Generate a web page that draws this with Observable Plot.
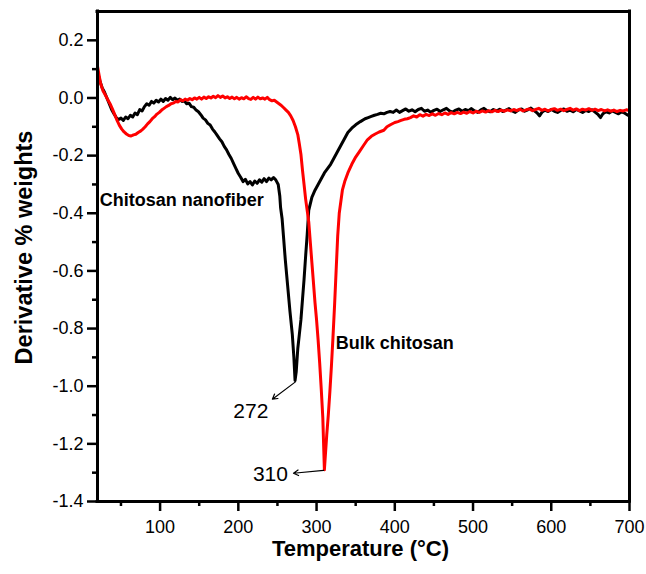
<!DOCTYPE html>
<html>
<head>
<meta charset="utf-8">
<script src="https://cdn.jsdelivr.net/npm/d3@7"></script>
<script src="https://cdn.jsdelivr.net/npm/@observablehq/plot@0.6"></script>
<style>
  html, body { margin: 0; padding: 0; background: #fff; }
  #chart { width: 646px; height: 574px; }
</style>
</head>
<body>
<div id="chart"></div>
<script>
// Chitosan nanofiber (black)
const nanoT = [20,23,26,29,32,35,38,41,44,47,50,53,56,59,62,65,68,71,74,77,80,83,86,89,92,95,98,101,104,107,110,113,116,119,122,125,128,131,134,137,140,143,146,149,152,155,158,161,164,167,170,173,176,179,182,185,188,191,194,197,200,203,206,209,212,215,218,221,224,227,230,233,236,239,242,245,248,251,253,254,256,258,260,263,266,269,271,272.5,274,276,278,280,282,284,286,288,290,294,298,302,306,310,314,318,322,327,331,335,340,345,350,356,362,366,370,374,378,382,386,390,394,398,402,406,410,414,418,422,426,430,434,438,442,446,450,454,458,462,466,470,474,478,482,486,490,494,498,502,506,510,514,518,522,526,530,534,538,542,546,550,554,558,562,566,570,574,578,582,585,588,592,596,600,604,608,612,616,620,624,628,632,636,640,644,648,652,656,660,663,666,670,674,678,682,686,690,694,698,700];
const nanoV = [0.09,0.06,0.035,0.02,0.0,-0.02,-0.04,-0.055,-0.068,-0.075,-0.07,-0.078,-0.066,-0.072,-0.06,-0.066,-0.052,-0.058,-0.04,-0.045,-0.03,-0.02,-0.025,-0.012,-0.018,-0.008,-0.014,-0.004,-0.012,-0.002,-0.008,0.002,-0.006,0.0,-0.008,-0.004,-0.012,-0.01,-0.02,-0.018,-0.03,-0.032,-0.042,-0.048,-0.058,-0.07,-0.076,-0.088,-0.094,-0.108,-0.118,-0.13,-0.142,-0.152,-0.168,-0.18,-0.196,-0.21,-0.228,-0.245,-0.262,-0.275,-0.29,-0.282,-0.298,-0.29,-0.302,-0.288,-0.296,-0.284,-0.292,-0.28,-0.29,-0.278,-0.284,-0.276,-0.285,-0.3,-0.34,-0.38,-0.42,-0.49,-0.56,-0.65,-0.74,-0.82,-0.9,-0.98,-0.95,-0.87,-0.82,-0.77,-0.7,-0.63,-0.55,-0.475,-0.39,-0.345,-0.32,-0.3,-0.28,-0.26,-0.245,-0.23,-0.21,-0.185,-0.165,-0.145,-0.12,-0.105,-0.093,-0.082,-0.072,-0.068,-0.064,-0.06,-0.057,-0.053,-0.055,-0.05,-0.047,-0.05,-0.042,-0.05,-0.044,-0.038,-0.046,-0.041,-0.048,-0.04,-0.036,-0.046,-0.042,-0.05,-0.043,-0.039,-0.047,-0.041,-0.036,-0.045,-0.049,-0.042,-0.038,-0.046,-0.04,-0.044,-0.037,-0.045,-0.05,-0.041,-0.036,-0.044,-0.048,-0.04,-0.045,-0.039,-0.047,-0.042,-0.037,-0.045,-0.05,-0.042,-0.038,-0.046,-0.041,-0.035,-0.044,-0.052,-0.062,-0.05,-0.042,-0.047,-0.04,-0.046,-0.05,-0.043,-0.038,-0.046,-0.042,-0.048,-0.04,-0.045,-0.05,-0.043,-0.047,-0.041,-0.049,-0.058,-0.068,-0.055,-0.048,-0.052,-0.045,-0.05,-0.055,-0.048,-0.053,-0.06,-0.055];

// Bulk chitosan (red)
const bulkT = [20,22,24,27,30,33,36,39,42,45,48,51,54,57,60,63,66,69,72,75,78,81,84,87,90,93,96,99,102,105,108,111,114,117,120,123,126,129,132,135,138,141,144,147,150,153,156,159,162,165,168,171,174,177,180,183,186,189,192,195,198,201,204,207,210,213,216,219,222,225,228,231,234,237,240,243,246,249,252,255,258,261,264,267,270,273,276,278,280,282,284,286,288,290,292,294,296,298,300,302,304,306,308,309,310,311,313,315,317,319,321,323,325,327,329,331,333,336,340,345,350,355,360,365,370,375,380,386,390,395,400,404,408,412,416,420,424,428,432,436,440,444,448,452,456,460,464,468,472,476,480,484,488,492,496,500,504,508,512,516,520,524,528,532,536,540,544,548,552,556,560,564,568,572,576,580,584,588,592,596,600,604,608,612,616,620,624,628,632,636,640,644,648,652,656,660,664,668,672,676,680,684,688,692,696,700];
const bulkV = [0.11,0.08,0.05,0.025,0.01,-0.005,-0.02,-0.038,-0.058,-0.078,-0.095,-0.108,-0.118,-0.125,-0.13,-0.132,-0.128,-0.126,-0.12,-0.115,-0.108,-0.1,-0.09,-0.082,-0.072,-0.065,-0.056,-0.05,-0.042,-0.036,-0.03,-0.026,-0.02,-0.018,-0.012,-0.014,-0.006,-0.01,-0.004,-0.008,-0.002,-0.006,0.0,-0.004,0.002,-0.004,0.003,-0.002,0.004,0.0,0.006,0.001,0.008,0.002,0.007,0.0,0.004,-0.002,0.003,-0.003,0.002,-0.004,0.001,-0.003,0.004,-0.002,-0.005,0.002,-0.004,0.003,-0.003,0.0,-0.004,0.002,-0.006,-0.01,-0.008,-0.014,-0.02,-0.026,-0.034,-0.042,-0.05,-0.062,-0.078,-0.1,-0.127,-0.16,-0.195,-0.25,-0.3,-0.35,-0.39,-0.43,-0.5,-0.57,-0.64,-0.71,-0.77,-0.84,-0.92,-1.01,-1.11,-1.2,-1.29,-1.25,-1.17,-1.1,-1.02,-0.93,-0.83,-0.72,-0.6,-0.48,-0.4,-0.36,-0.32,-0.29,-0.26,-0.23,-0.205,-0.185,-0.165,-0.145,-0.133,-0.125,-0.118,-0.112,-0.1,-0.092,-0.085,-0.082,-0.078,-0.074,-0.072,-0.068,-0.062,-0.066,-0.058,-0.063,-0.057,-0.061,-0.055,-0.06,-0.054,-0.058,-0.052,-0.057,-0.051,-0.055,-0.05,-0.054,-0.049,-0.053,-0.047,-0.052,-0.046,-0.05,-0.045,-0.049,-0.044,-0.048,-0.043,-0.047,-0.042,-0.046,-0.041,-0.045,-0.04,-0.044,-0.039,-0.045,-0.041,-0.038,-0.044,-0.04,-0.036,-0.043,-0.039,-0.045,-0.04,-0.037,-0.043,-0.039,-0.044,-0.04,-0.036,-0.042,-0.038,-0.044,-0.039,-0.042,-0.037,-0.043,-0.039,-0.044,-0.04,-0.045,-0.041,-0.046,-0.042,-0.047,-0.043,-0.045,-0.041,-0.044];

// Axis ticks and limits
const xLimits = [20, 700];
const yLimits = [-1.4, 0.3];
const xMajor = [100,200,300,400,500,600,700];
const xMinor = [50,150,250,350,450,550,650];
const yMajor = [-1.4,-1.2,-1.0,-0.8,-0.6,-0.4,-0.2,0.0,0.2];
const yMinor = [-1.3,-1.1,-0.9,-0.7,-0.5,-0.3,-0.1,0.1];

// Annotations
const boldLabels = ["Chitosan nanofiber", "Bulk chitosan"];
const boldX = [23, 324.5];
const boldY = [-0.356, -0.85];
const peakLabels = ["272", "310"];
const peakLabelX = [216, 241];
const peakLabelY = [-1.087, -1.306];
const arrows = [
  {x1: 273, y1: -0.985, x2: 243.5, y2: -1.045},
  {x1: 309, y1: -1.292, x2: 270.5, y2: -1.302}
];

const nano = nanoT.map((t, i) => ({t, v: nanoV[i]}));
const bulk = bulkT.map((t, i) => ({t, v: bulkV[i]}));
const boldData = boldLabels.map((text, i) => ({text, x: boldX[i], y: boldY[i]}));
const peakData = peakLabels.map((text, i) => ({text, x: peakLabelX[i], y: peakLabelY[i]}));
const fmt = d => d.toFixed(1);

const chart = Plot.plot({
  width: 646,
  height: 574,
  marginLeft: 97,
  marginRight: 17,
  marginTop: 11,
  marginBottom: 73,
  style: {fontFamily: "'Liberation Sans', Arial, sans-serif", background: "#fff", color: "#000"},
  x: {domain: xLimits},
  y: {domain: yLimits},
  marks: [
    Plot.line(nano, {x: "t", y: "v", stroke: "#000", strokeWidth: 3, strokeLinejoin: "round"}),
    Plot.line(bulk, {x: "t", y: "v", stroke: "#ff0000", strokeWidth: 3, strokeLinejoin: "round"}),
    Plot.arrow(arrows, {x1: "x1", y1: "y1", x2: "x2", y2: "y2", stroke: "#000", strokeWidth: 1.2, headLength: 7, bend: 0}),
    Plot.text(boldData, {x: "x", y: "y", text: "text", textAnchor: "start", fontWeight: "bold", fontSize: 18, fill: "#000"}),
    Plot.text(peakData, {x: "x", y: "y", text: "text", textAnchor: "middle", fontSize: 21, fill: "#000"}),
    Plot.axisX({ticks: xMajor, tickSize: 10, tickPadding: 9, fontSize: 18, strokeWidth: 2.5, label: null, tickFormat: d => String(d)}),
    Plot.axisX({ticks: xMinor, tickSize: 5, strokeWidth: 2.5, label: null, tickFormat: () => ""}),
    Plot.axisY({ticks: yMajor, tickSize: 10, tickPadding: 4, fontSize: 18, strokeWidth: 2.5, label: null, tickFormat: fmt}),
    Plot.axisY({ticks: yMinor, tickSize: 5, strokeWidth: 2.5, label: null, tickFormat: () => ""}),
    Plot.ruleX(xLimits, {stroke: "#000", strokeWidth: 3, strokeLinecap: "square"}),
    Plot.ruleY(yLimits, {stroke: "#000", strokeWidth: 3, strokeLinecap: "square"}),
    Plot.text(["Temperature (°C)"], {frameAnchor: "bottom", dy: 54, dx: -3, fontSize: 22, fontWeight: "bold", fill: "#000"}),
    Plot.text(["Derivative % weights"], {frameAnchor: "left", textAnchor: "middle", dx: -73, dy: -9, rotate: -90, fontSize: 23.5, fontWeight: "bold", fill: "#000"})
  ]
});
document.getElementById("chart").appendChild(chart);
</script>
</body>
</html>
